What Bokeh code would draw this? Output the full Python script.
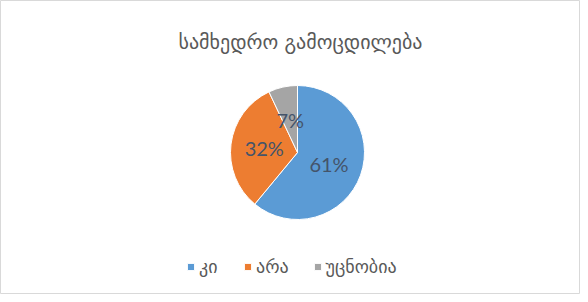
import math
from bokeh.plotting import figure
from bokeh.models import Range1d, Legend, LegendItem
from bokeh.core.properties import value
from bokeh.embed import file_html
from bokeh.resources import INLINE

title_text = "სამხედრო გამოცდილება"
categories = ["კი", "არა", "უცნობია"]
values = [61, 32, 7]
colors = ["#5B9BD5", "#ED7D31", "#A5A5A5"]

W, H = 580, 294
p = figure(width=W, height=H, output_backend="svg", toolbar_location=None,
           x_range=Range1d(0, W), y_range=Range1d(0, H), min_border=0,
           background_fill_color="white", border_fill_color="white")
p.axis.visible = False
p.grid.visible = False
p.outline_line_color = "#D9D9D9"

cx, cy, R = 297, 142, 67
total = sum(values)
starts, ends, lx, ly, labels = [], [], [], [], []
acc = 0.0
for v in values:
    a0 = math.pi / 2 - 2 * math.pi * acc / total
    a1 = math.pi / 2 - 2 * math.pi * (acc + v) / total
    starts.append(a0)
    ends.append(a1)
    mid = (a0 + a1) / 2
    lx.append(cx + 0.5 * R * math.cos(mid))
    ly.append(cy + 0.5 * R * math.sin(mid))
    labels.append(f"{round(100 * v / total)}%")
    acc += v

renderers = []
for i in range(len(values)):
    r = p.wedge(x=cx, y=cy, radius=R, start_angle=starts[i], end_angle=ends[i],
                direction="clock", fill_color=colors[i], line_color="white", line_width=1)
    renderers.append(r)

p.text(x=lx, y=ly, text=labels, text_align="center", text_baseline="middle",
       text_font=value("Lato"), text_font_size="20px", text_color="#44546A")

p.text(x=[300], y=[253], text=[title_text], text_align="center", text_baseline="middle",
       text_font=value("DejaVu Sans"), text_font_size="20px", text_color="#595959")

legend = Legend(items=[LegendItem(label=categories[i], renderers=[renderers[i]]) for i in range(len(values))],
                orientation="horizontal", location=(186, 17),
                label_text_font="DejaVu Sans", label_text_font_size="18px",
                label_text_color="#595959", glyph_width=9, glyph_height=9,
                spacing=24, label_standoff=4, padding=0, margin=0,
                border_line_color=None, background_fill_alpha=0)
p.add_layout(legend, "center")

open("out.html", "w").write(file_html(p, INLINE))
